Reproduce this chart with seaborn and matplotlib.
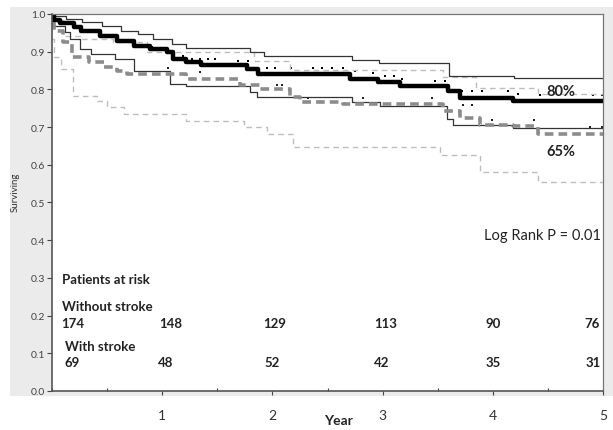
import pandas as pd
import seaborn as sns
import matplotlib.pyplot as plt
from matplotlib.patches import Rectangle
from matplotlib.ticker import MultipleLocator

# Kaplan-Meier curves (time in years, survival fraction)
no_stroke_t = [0.0, 0.02, 0.07, 0.20, 0.26, 0.44, 0.59, 0.74, 0.89, 1.04, 1.10, 1.22, 1.35,
               1.77, 1.87, 2.70, 2.96, 3.16, 3.59, 3.70, 4.18, 5.0]
no_stroke_s = [1.0, 0.985, 0.976, 0.965, 0.956, 0.942, 0.929, 0.916, 0.907, 0.899, 0.881, 0.872, 0.866,
               0.854, 0.841, 0.828, 0.820, 0.809, 0.795, 0.777, 0.770, 0.770]

no_stroke_up_t = [0.0, 0.02, 0.13, 0.27, 0.45, 0.63, 0.78, 0.92, 1.09, 1.22, 1.80, 1.92, 2.72,
                  2.97, 3.60, 4.19, 5.0]
no_stroke_up_s = [1.0, 0.996, 0.988, 0.979, 0.969, 0.956, 0.947, 0.935, 0.920, 0.909, 0.898, 0.888,
                  0.879, 0.870, 0.836, 0.829, 0.829]

no_stroke_lo_t = [0.0, 0.02, 0.12, 0.16, 0.25, 0.35, 0.57, 0.74, 1.07, 1.22, 1.80, 1.86, 2.72,
                  2.98, 3.58, 3.64, 4.18, 5.0]
no_stroke_lo_s = [0.975, 0.967, 0.951, 0.934, 0.907, 0.894, 0.881, 0.850, 0.814, 0.808, 0.792, 0.779,
                  0.766, 0.755, 0.722, 0.706, 0.698, 0.698]

stroke_t = [0.0, 0.02, 0.10, 0.18, 0.34, 0.47, 0.59, 0.68, 1.22, 1.71, 1.89, 2.16, 2.25, 2.64,
            3.55, 3.70, 3.88, 4.18, 4.41, 5.0]
stroke_s = [0.975, 0.955, 0.925, 0.886, 0.872, 0.859, 0.850, 0.841, 0.828, 0.812, 0.801, 0.779,
            0.766, 0.761, 0.744, 0.725, 0.706, 0.703, 0.683, 0.683]

stroke_up_t = [0.0, 0.10, 0.25, 0.55, 0.86, 1.83, 2.16, 3.55, 3.85, 4.41, 5.0]
stroke_up_s = [0.985, 0.942, 0.935, 0.925, 0.899, 0.876, 0.852, 0.834, 0.803, 0.788, 0.788]

stroke_lo_t = [0.0, 0.02, 0.08, 0.19, 0.41, 0.50, 0.65, 1.22, 1.74, 1.95, 2.19, 3.52, 3.88, 4.41, 5.0]
stroke_lo_s = [0.935, 0.886, 0.854, 0.783, 0.770, 0.753, 0.735, 0.717, 0.700, 0.682, 0.647,
               0.626, 0.580, 0.555, 0.555]

# censor marks
cens_no_t = [0.91, 1.01, 1.05, 1.19, 1.27, 1.34, 1.42, 1.48, 1.69, 1.78, 1.95, 2.02, 2.17, 2.37,
             2.45, 2.54, 2.64, 2.75, 2.91, 3.02, 3.10, 3.18, 3.48, 3.57, 3.72, 3.81, 3.90, 4.14,
             4.23, 4.43, 4.91, 4.99]
cens_no_s = [0.912, 0.907, 0.907, 0.888, 0.881, 0.881, 0.881, 0.881, 0.876, 0.876, 0.856, 0.856,
             0.856, 0.856, 0.856, 0.856, 0.856, 0.850, 0.843, 0.835, 0.835, 0.828, 0.821, 0.821,
             0.797, 0.797, 0.797, 0.797, 0.788, 0.785, 0.785, 0.785]
cens_st_t = [1.05, 1.34, 2.04, 2.09, 2.32, 2.82, 3.45, 3.73, 3.81, 3.99, 4.37, 4.88, 4.99]
cens_st_s = [0.856, 0.845, 0.812, 0.812, 0.776, 0.776, 0.776, 0.759, 0.759, 0.720, 0.720, 0.700, 0.700]

years = [1, 2, 3, 4, 5]
at_risk_without = [174, 148, 129, 113, 90, 76]
at_risk_with = [69, 48, 52, 42, 35, 31]
risk_x = [0.19, 1.08, 2.02, 3.03, 4.00, 4.90]
risk_x_with = [0.18, 1.03, 2.00, 2.99, 4.00, 4.91]

sns.set_theme(style="white")
plt.rcParams['font.family'] = ['Lato', 'DejaVu Sans']

fig = plt.figure(figsize=(6.13, 4.31), dpi=100)
fig.patches.append(Rectangle((10 / 613, 34 / 431), 603 / 613, 389 / 431,
                             transform=fig.transFigure, facecolor='#ebebeb',
                             edgecolor='none', zorder=-5))
ax = fig.add_axes([52 / 613, 39 / 431, 551 / 613, 377 / 431])
ax.set_facecolor('white')

def km(t, s, **kw):
    df = pd.DataFrame({"Year": t, "Surviving": s})
    sns.lineplot(data=df, x="Year", y="Surviving", estimator=None, sort=False,
                 drawstyle='steps-post', ax=ax, **kw)

km(stroke_lo_t, stroke_lo_s, color='#bdbdbd', linewidth=1.0, linestyle=(0, (4, 3)))
km(stroke_up_t, stroke_up_s, color='#bdbdbd', linewidth=1.0, linestyle=(0, (4, 3)))
km(no_stroke_up_t, no_stroke_up_s, color='#333333', linewidth=0.9)
km(no_stroke_lo_t, no_stroke_lo_s, color='#333333', linewidth=0.9)
km(stroke_t, stroke_s, color='#8c8c8c', linewidth=2.6, linestyle=(0, (2.4, 1.4)))
km(no_stroke_t, no_stroke_s, color='black', linewidth=3.2)

sns.scatterplot(x=cens_no_t, y=cens_no_s, ax=ax, color='black', marker='s', s=2.5, linewidth=0)
sns.scatterplot(x=cens_st_t, y=cens_st_s, ax=ax, color='#222222', marker='s', s=2.5, linewidth=0)

ax.set_xlim(0, 5)
ax.set_ylim(0, 1.0)
ax.set_xticks(years)
ax.xaxis.set_minor_locator(MultipleLocator(0.5))
ax.yaxis.set_major_locator(MultipleLocator(0.1))
ax.set_yticklabels([f"{v:.1f}" for v in ax.get_yticks()])
ax.tick_params(axis='y', which='major', direction='out', length=3.5, width=0.8,
               labelsize=7.5, colors='#444444', pad=1.5, left=True)
ax.tick_params(axis='x', which='major', direction='out', length=3, width=0.8,
               labelsize=10, labelcolor='#333333', color='#444444', pad=10, bottom=True)
ax.tick_params(axis='x', which='minor', direction='in', length=2.5, width=0.8,
               color='#444444', bottom=True)
for side in ['left', 'bottom']:
    ax.spines[side].set_color('#555555')
    ax.spines[side].set_linewidth(1.2)
for side in ['top', 'right']:
    ax.spines[side].set_color('#777777')
    ax.spines[side].set_linewidth(0.9)

ax.set_xlabel("Year", fontsize=10, fontweight='bold', color='#222222')
ax.xaxis.set_label_coords(0.519, -0.06)
ax.set_ylabel("Surviving", fontsize=7, color='#333333')
ax.yaxis.set_label_coords(-0.058, 0.53)

ax.text(4.62, 0.795, "80%", fontsize=10.5, fontweight='bold', ha='center', va='center', color='#222222')
ax.text(4.62, 0.637, "65%", fontsize=10.5, fontweight='bold', ha='center', va='center', color='#222222')
ax.text(4.98, 0.414, "Log Rank P = 0.01", fontsize=10.5, ha='right', va='center', color='#222222')
ax.text(0.09, 0.297, "Patients at risk", fontsize=9.5, fontweight='bold', va='center', color='#222222')
ax.text(0.09, 0.225, "Without stroke", fontsize=9.5, fontweight='bold', va='center', color='#222222')
ax.text(0.12, 0.119, "With stroke", fontsize=9.5, fontweight='bold', va='center', color='#222222')
for x, n in zip(risk_x, at_risk_without):
    ax.text(x, 0.180, str(n), fontsize=9.5, fontweight='bold', ha='center', va='center', color='#222222')
for x, n in zip(risk_x_with, at_risk_with):
    ax.text(x, 0.077, str(n), fontsize=9.5, fontweight='bold', ha='center', va='center', color='#222222')

fig.savefig("out.png", dpi=100)
